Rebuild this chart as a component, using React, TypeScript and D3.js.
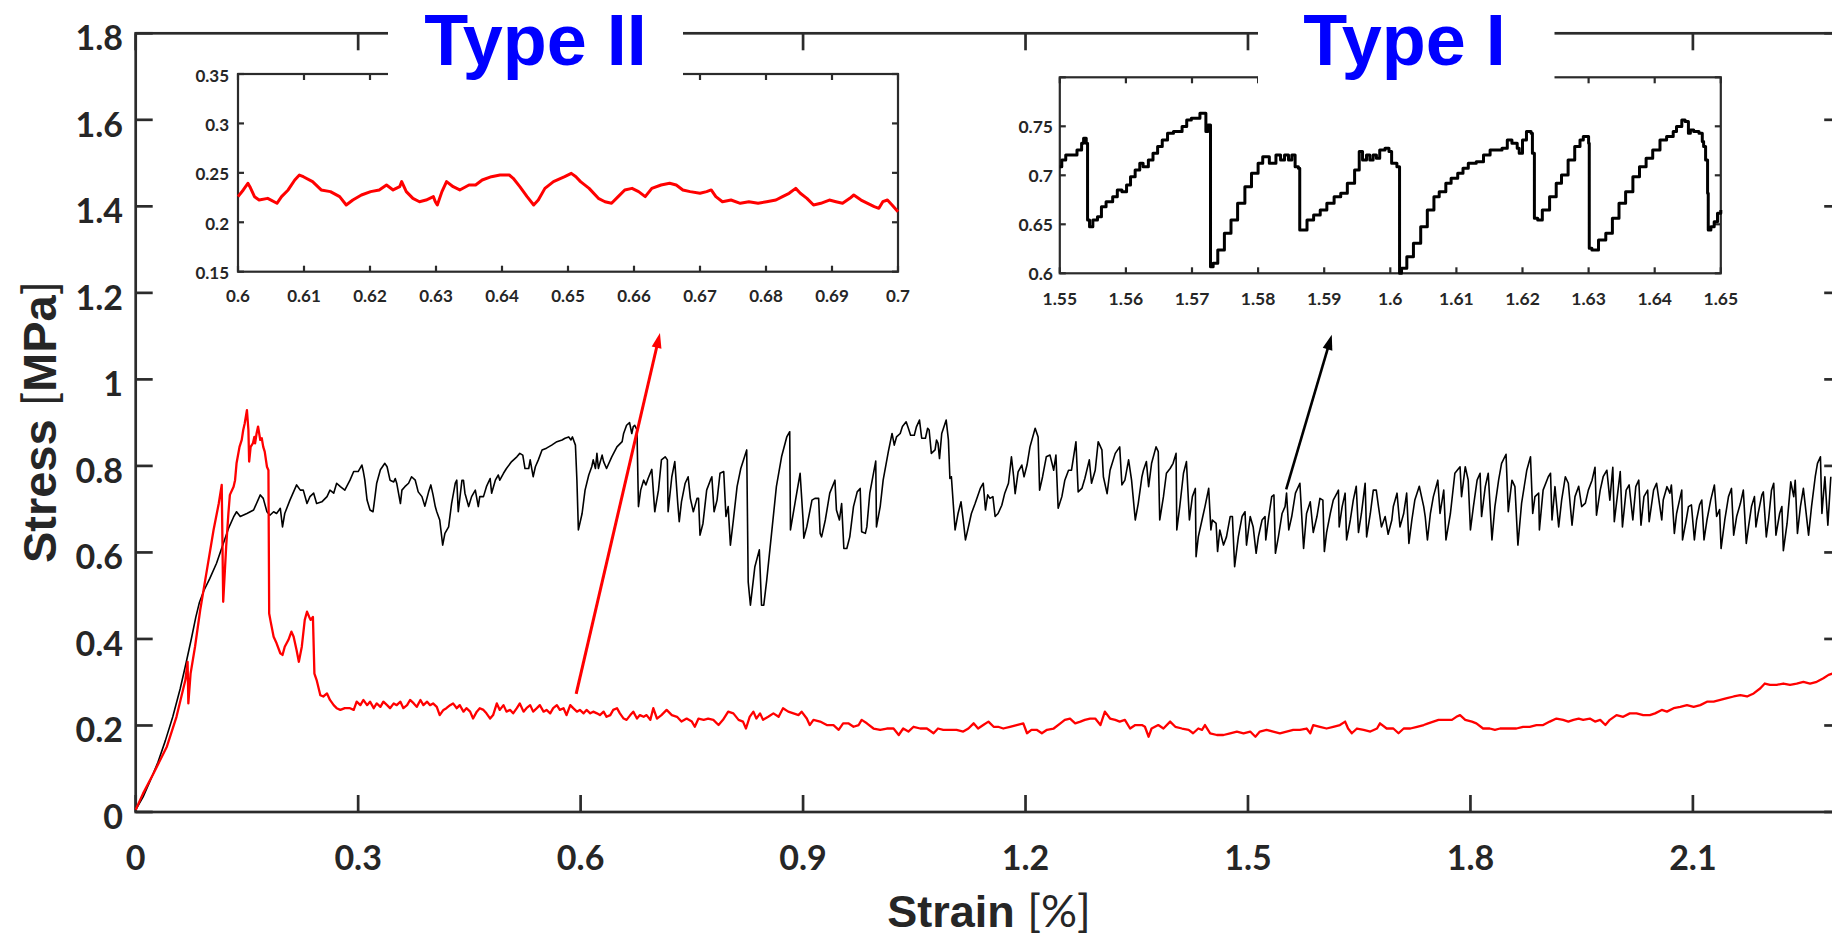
import React from 'react';
import * as d3 from 'd3';

type P = [number, number];

// ---------- main chart data (strain %, stress MPa) ----------
const blackMain: P[] = [
[0,0.005],[0.010,0.035],[0.019,0.070],[0.030,0.115],[0.040,0.165],[0.050,0.220],[0.060,0.285],[0.068,0.345],[0.075,0.400],[0.081,0.450],[0.086,0.485],[0.092,0.512],[0.100,0.540],[0.109,0.575],[0.117,0.615],[0.125,0.655],[0.132,0.682],[0.136,0.694],[0.141,0.683],[0.150,0.690],[0.159,0.698],[0.168,0.733],[0.172,0.725],[0.177,0.694],[0.181,0.686],[0.186,0.694],[0.190,0.690],[0.195,0.702],[0.198,0.659],[0.201,0.690],[0.208,0.721],[0.217,0.756],[0.222,0.744],[0.226,0.744],[0.231,0.713],[0.235,0.729],[0.240,0.737],[0.244,0.713],[0.251,0.717],[0.258,0.729],[0.262,0.744],[0.267,0.737],[0.271,0.760],[0.276,0.752],[0.282,0.744],[0.289,0.767],[0.294,0.787],[0.300,0.787],[0.305,0.802],[0.307,0.787],[0.309,0.767],[0.312,0.721],[0.316,0.698],[0.320,0.694],[0.321,0.706],[0.325,0.760],[0.330,0.791],[0.336,0.806],[0.339,0.798],[0.343,0.767],[0.348,0.763],[0.350,0.771],[0.352,0.760],[0.357,0.713],[0.359,0.744],[0.363,0.752],[0.368,0.760],[0.372,0.775],[0.377,0.767],[0.381,0.740],[0.386,0.729],[0.390,0.707],[0.395,0.740],[0.398,0.756],[0.401,0.733],[0.404,0.706],[0.406,0.694],[0.410,0.675],[0.414,0.617],[0.417,0.644],[0.422,0.659],[0.426,0.713],[0.431,0.760],[0.433,0.767],[0.435,0.694],[0.440,0.767],[0.442,0.767],[0.444,0.737],[0.449,0.706],[0.453,0.729],[0.458,0.744],[0.462,0.706],[0.464,0.729],[0.469,0.729],[0.473,0.752],[0.478,0.771],[0.480,0.737],[0.485,0.767],[0.489,0.779],[0.491,0.767],[0.496,0.783],[0.500,0.794],[0.507,0.810],[0.514,0.821],[0.518,0.829],[0.522,0.825],[0.525,0.794],[0.530,0.794],[0.532,0.814],[0.536,0.775],[0.539,0.798],[0.543,0.814],[0.548,0.837],[0.554,0.841],[0.561,0.848],[0.568,0.856],[0.575,0.860],[0.579,0.864],[0.584,0.867],[0.587,0.860],[0.589,0.867],[0.593,0.848],[0.595,0.767],[0.597,0.652],[0.602,0.690],[0.606,0.744],[0.611,0.779],[0.615,0.798],[0.617,0.814],[0.620,0.794],[0.622,0.829],[0.624,0.794],[0.629,0.825],[0.631,0.810],[0.635,0.794],[0.642,0.821],[0.649,0.844],[0.656,0.856],
[0.658,0.875],[0.662,0.894],[0.666,0.900],[0.669,0.875],[0.671,0.891],[0.673,0.894],[0.676,0.883],[0.678,0.706],[0.681,0.744],[0.685,0.767],[0.688,0.756],[0.691,0.771],[0.696,0.792],[0.700,0.694],[0.705,0.744],[0.709,0.814],[0.714,0.821],[0.717,0.814],[0.718,0.694],[0.723,0.775],[0.727,0.810],[0.731,0.713],[0.733,0.671],[0.736,0.717],[0.741,0.760],[0.745,0.775],[0.748,0.725],[0.752,0.694],[0.757,0.725],[0.759,0.725],[0.761,0.640],[0.765,0.667],[0.770,0.744],[0.775,0.767],[0.777,0.775],[0.780,0.694],[0.784,0.721],[0.788,0.783],[0.793,0.787],[0.796,0.683],[0.799,0.706],[0.802,0.617],[0.806,0.675],[0.811,0.752],[0.816,0.794],[0.824,0.837],[0.826,0.532],[0.829,0.478],[0.835,0.567],[0.841,0.606],[0.844,0.478],[0.847,0.478],[0.851,0.536],[0.858,0.652],[0.864,0.752],[0.871,0.821],[0.878,0.867],[0.882,0.879],[0.883,0.652],[0.889,0.713],[0.896,0.783],[0.900,0.675],[0.901,0.633],[0.905,0.659],[0.912,0.721],[0.916,0.725],[0.921,0.725],[0.923,0.644],[0.925,0.636],[0.930,0.675],[0.936,0.737],[0.943,0.767],[0.945,0.698],[0.949,0.675],[0.952,0.713],[0.955,0.609],[0.959,0.609],[0.963,0.636],[0.968,0.706],[0.973,0.740],[0.977,0.748],[0.979,0.648],[0.984,0.644],[0.986,0.659],[0.990,0.737],[0.998,0.811],[0.999,0.659],[1.004,0.706],[1.008,0.767],[1.015,0.833],[1.020,0.875],[1.023,0.848],[1.026,0.867],[1.031,0.875],[1.034,0.891],[1.039,0.902],[1.042,0.887],[1.045,0.871],[1.050,0.871],[1.053,0.891],[1.057,0.906],[1.060,0.864],[1.065,0.864],[1.068,0.887],[1.070,0.883],[1.073,0.829],[1.078,0.837],[1.080,0.860],[1.082,0.852],[1.084,0.817],[1.087,0.875],[1.093,0.906],[1.096,0.860],[1.098,0.771],[1.100,0.775],[1.105,0.652],[1.109,0.690],[1.113,0.717],[1.116,0.675],[1.119,0.629],[1.123,0.659],[1.127,0.690],[1.132,0.713],[1.139,0.748],[1.143,0.760],[1.146,0.698],[1.149,0.733],[1.152,0.725],[1.156,0.729],[1.159,0.683],[1.163,0.690],[1.168,0.709],[1.172,0.737],[1.177,0.760],[1.181,0.821],[1.184,0.775],[1.186,0.736],[1.190,0.786],[1.195,0.802],[1.198,0.775],[1.202,0.802],[1.206,0.844],[1.213,0.887],[1.217,0.867],[1.219,0.744],[1.223,0.775],[1.228,0.821],[1.233,0.825],[1.238,0.790],[1.241,0.825],[1.244,0.702],[1.249,0.729],[1.253,0.767],[1.258,0.790],[1.262,0.790],[1.268,0.856],[1.271,0.740],[1.276,0.748],[1.280,0.771],[1.286,0.814],[1.289,0.760],[1.294,0.790],[1.298,0.856],[1.303,0.837],[1.305,0.775],[1.310,0.736],[1.314,0.790],[1.321,0.829],[1.327,0.844],[1.330,0.756],[1.334,0.767],[1.339,0.814],[1.343,0.767],[1.348,0.675],[1.352,0.713],[1.357,0.775],
[1.359,0.790],[1.363,0.810],[1.366,0.752],[1.370,0.806],[1.376,0.844],[1.379,0.833],[1.381,0.675],[1.386,0.729],[1.390,0.783],[1.395,0.794],[1.399,0.806],[1.403,0.829],[1.404,0.652],[1.408,0.706],[1.413,0.783],[1.417,0.810],[1.421,0.675],[1.425,0.729],[1.429,0.748],[1.430,0.590],[1.433,0.636],[1.438,0.675],[1.442,0.706],[1.447,0.748],[1.450,0.652],[1.452,0.675],[1.457,0.667],[1.459,0.602],[1.462,0.652],[1.467,0.617],[1.471,0.636],[1.476,0.683],[1.479,0.683],[1.482,0.567],[1.487,0.636],[1.492,0.683],[1.496,0.694],[1.498,0.617],[1.503,0.683],[1.507,0.659],[1.511,0.598],[1.514,0.636],[1.519,0.675],[1.523,0.683],[1.524,0.629],[1.528,0.683],[1.532,0.729],[1.535,0.733],[1.537,0.598],[1.541,0.636],[1.546,0.690],[1.550,0.706],[1.552,0.737],[1.555,0.652],[1.559,0.683],[1.564,0.737],[1.570,0.760],[1.575,0.609],[1.579,0.690],[1.584,0.717],[1.588,0.646],[1.593,0.683],[1.597,0.725],[1.601,0.721],[1.603,0.602],[1.606,0.646],[1.611,0.690],[1.615,0.721],[1.620,0.737],[1.622,0.744],[1.623,0.659],[1.627,0.706],[1.631,0.737],[1.633,0.629],[1.638,0.675],[1.642,0.721],[1.646,0.753],[1.649,0.646],[1.653,0.690],[1.658,0.760],[1.660,0.636],[1.665,0.690],[1.669,0.744],[1.673,0.744],[1.676,0.706],[1.680,0.659],[1.685,0.683],[1.689,0.642],[1.694,0.675],[1.696,0.706],[1.701,0.737],[1.705,0.659],[1.710,0.690],[1.714,0.737],[1.717,0.621],[1.721,0.675],[1.725,0.721],[1.731,0.753],[1.737,0.706],[1.739,0.683],[1.742,0.629],[1.746,0.690],[1.750,0.729],[1.756,0.767],[1.759,0.690],[1.764,0.744],[1.767,0.629],[1.773,0.690],[1.779,0.783],[1.786,0.798],[1.788,0.729],[1.793,0.798],[1.797,0.767],[1.800,0.652],[1.804,0.706],[1.809,0.767],[1.813,0.783],[1.815,0.683],[1.820,0.752],[1.824,0.783],[1.829,0.629],[1.833,0.706],[1.838,0.767],[1.842,0.806],[1.848,0.827],[1.851,0.694],[1.856,0.767],[1.860,0.752],[1.864,0.617],[1.869,0.714],[1.876,0.790],[1.881,0.821],[1.884,0.690],[1.887,0.729],[1.892,0.737],[1.893,0.652],[1.898,0.744],[1.905,0.775],[1.908,0.783],[1.910,0.675],[1.914,0.752],[1.919,0.659],[1.923,0.721],[1.928,0.775],[1.932,0.760],[1.937,0.663],[1.941,0.729],[1.946,0.753],[1.950,0.706],[1.955,0.714],[1.959,0.744],[1.964,0.767],[1.968,0.797],[1.970,0.686],[1.975,0.744],[1.979,0.775],[1.984,0.790],[1.988,0.721],[1.992,0.797],[1.994,0.671],[1.998,0.729],[2.002,0.787],[2.005,0.659],[2.010,0.744],[2.014,0.756],[2.019,0.675],[2.023,0.752],[2.027,0.767],[2.030,0.663],[2.034,0.729],[2.039,0.744],[2.041,0.671],[2.047,0.744],[2.051,0.760],[2.058,0.675],
[2.060,0.721],[2.065,0.752],[2.069,0.737],[2.071,0.756],[2.075,0.644],[2.078,0.690],[2.083,0.729],[2.085,0.744],[2.086,0.629],[2.091,0.675],[2.094,0.706],[2.098,0.710],[2.102,0.629],[2.105,0.675],[2.109,0.710],[2.112,0.721],[2.115,0.629],[2.119,0.675],[2.124,0.721],[2.129,0.756],[2.132,0.683],[2.136,0.699],[2.138,0.609],[2.143,0.675],[2.148,0.729],[2.152,0.748],[2.155,0.640],[2.159,0.683],[2.164,0.713],[2.168,0.744],[2.172,0.621],[2.175,0.659],[2.179,0.706],[2.183,0.729],[2.185,0.659],[2.188,0.690],[2.193,0.733],[2.195,0.740],[2.199,0.636],[2.202,0.675],[2.206,0.744],[2.209,0.760],[2.212,0.640],[2.217,0.690],[2.220,0.706],[2.222,0.604],[2.227,0.667],[2.232,0.763],[2.236,0.729],[2.238,0.767],[2.241,0.644],[2.245,0.706],[2.249,0.748],[2.256,0.640],[2.260,0.706],[2.265,0.775],[2.268,0.806],[2.272,0.821],[2.274,0.690],[2.278,0.775],[2.282,0.663],[2.286,0.775]
];

const redMain: P[] = [
[0,0.005],[0.010,0.043],[0.024,0.089],[0.042,0.151],[0.055,0.220],[0.067,0.305],[0.070,0.347],[0.071,0.251],[0.074,0.320],[0.080,0.382],[0.087,0.467],[0.096,0.559],[0.105,0.652],[0.112,0.713],[0.116,0.756],[0.118,0.486],[0.122,0.613],[0.125,0.690],[0.127,0.733],[0.132,0.752],[0.134,0.767],[0.136,0.806],[0.140,0.844],[0.143,0.860],[0.145,0.883],[0.147,0.898],[0.150,0.929],[0.152,0.883],[0.153,0.810],[0.155,0.844],[0.158,0.852],[0.160,0.867],[0.161,0.852],[0.163,0.875],[0.165,0.891],[0.168,0.860],[0.170,0.864],[0.172,0.844],[0.174,0.833],[0.177,0.798],[0.179,0.790],[0.180,0.459],[0.182,0.440],[0.186,0.405],[0.190,0.390],[0.195,0.367],[0.198,0.363],[0.201,0.382],[0.206,0.398],[0.210,0.417],[0.213,0.405],[0.217,0.374],[0.220,0.347],[0.224,0.382],[0.228,0.444],[0.231,0.463],[0.234,0.451],[0.236,0.444],[0.239,0.451],[0.241,0.320],[0.244,0.305],[0.249,0.270],[0.253,0.267],[0.258,0.274],[0.262,0.259],[0.267,0.247],[0.271,0.240],[0.276,0.236],[0.282,0.240],[0.289,0.240],[0.294,0.236],[0.298,0.255],
[0.303,0.247],[0.307,0.259],[0.312,0.247],[0.316,0.255],[0.321,0.240],[0.325,0.251],[0.330,0.243],[0.334,0.255],[0.339,0.247],[0.343,0.240],[0.348,0.251],[0.352,0.247],[0.357,0.255],[0.361,0.240],[0.366,0.247],[0.370,0.259],[0.375,0.251],[0.379,0.243],[0.384,0.259],[0.388,0.247],[0.393,0.255],[0.397,0.247],[0.401,0.251],[0.406,0.243],[0.410,0.224],[0.415,0.236],[0.419,0.240],[0.424,0.247],[0.428,0.251],[0.433,0.240],[0.437,0.247],[0.442,0.232],[0.446,0.240],[0.451,0.232],[0.455,0.216],[0.460,0.232],[0.464,0.240],[0.469,0.236],[0.473,0.228],[0.478,0.216],[0.482,0.224],[0.487,0.251],[0.491,0.236],[0.496,0.247],[0.500,0.232],[0.505,0.236],[0.509,0.228],[0.514,0.240],[0.518,0.251],[0.523,0.232],[0.527,0.240],[0.532,0.247],[0.536,0.232],[0.541,0.240],[0.545,0.247],[0.550,0.232],[0.554,0.236],[0.559,0.228],[0.563,0.240],[0.568,0.247],[0.572,0.236],[0.577,0.240],[0.581,0.224],[0.586,0.247],[0.590,0.240],[0.595,0.232],[0.599,0.236],[0.604,0.228],[0.608,0.236],[0.613,0.228],[0.617,0.232],[0.622,0.228],[0.626,0.224],[0.631,0.232],[0.635,0.220],[0.640,0.224],[0.644,0.236],[0.649,0.240],[0.653,0.228],
[0.658,0.216],[0.662,0.213],[0.667,0.224],[0.671,0.232],[0.676,0.216],[0.680,0.224],[0.685,0.220],[0.689,0.224],[0.694,0.213],[0.698,0.240],[0.703,0.216],[0.709,0.224],[0.716,0.236],[0.723,0.224],[0.730,0.220],[0.736,0.209],[0.743,0.216],[0.750,0.209],[0.754,0.197],[0.759,0.216],[0.766,0.213],[0.772,0.216],[0.779,0.213],[0.786,0.201],[0.792,0.213],[0.799,0.232],[0.806,0.228],[0.813,0.213],[0.819,0.209],[0.823,0.193],[0.828,0.220],[0.833,0.232],[0.837,0.216],[0.842,0.228],[0.846,0.213],[0.853,0.220],[0.860,0.228],[0.867,0.220],[0.873,0.240],[0.880,0.232],[0.887,0.228],[0.894,0.224],[0.898,0.232],[0.905,0.216],[0.909,0.201],[0.914,0.213],[0.923,0.209],[0.932,0.201],[0.941,0.201],[0.948,0.190],[0.954,0.205],[0.961,0.205],[0.968,0.197],[0.975,0.201],[0.979,0.213],[0.986,0.205],[0.995,0.193],[1.004,0.190],[1.013,0.193],[1.022,0.193],[1.029,0.178],[1.035,0.193],[1.042,0.186],[1.049,0.197],[1.058,0.193],[1.067,0.193],[1.076,0.182],[1.082,0.193],[1.089,0.190],[1.098,0.190],[1.107,0.190],[1.116,0.186],[1.123,0.193],[1.130,0.205],[1.136,0.193],[1.143,0.201],[1.150,0.209],[1.157,0.197],[1.163,0.197],[1.170,0.193],[1.179,0.197],[1.188,0.201],[1.197,0.205],[1.202,0.182],[1.208,0.190],[1.215,0.190],[1.222,0.182],[1.229,0.190],[1.238,0.193],[1.247,0.205],[1.253,0.213],[1.260,0.216],[1.267,0.205],[1.274,0.209],[1.280,0.213],[1.287,0.216],[1.294,0.216],[1.301,0.201],[1.307,0.232],[1.314,0.216],[1.321,0.213],[1.327,0.209],[1.334,0.213],[1.341,0.193],[1.348,0.201],[1.357,0.201],
[1.361,0.197],[1.366,0.174],[1.370,0.193],[1.379,0.201],[1.386,0.193],[1.395,0.209],[1.402,0.197],[1.411,0.193],[1.420,0.190],[1.426,0.182],[1.433,0.193],[1.438,0.190],[1.442,0.201],[1.449,0.182],[1.458,0.178],[1.467,0.178],[1.476,0.182],[1.485,0.186],[1.494,0.182],[1.503,0.186],[1.510,0.174],[1.516,0.186],[1.525,0.190],[1.534,0.186],[1.543,0.182],[1.552,0.186],[1.561,0.190],[1.570,0.190],[1.579,0.193],[1.584,0.182],[1.588,0.201],[1.597,0.197],[1.606,0.193],[1.615,0.197],[1.624,0.201],[1.631,0.209],[1.635,0.193],[1.640,0.182],[1.647,0.193],[1.656,0.190],[1.665,0.186],[1.674,0.193],[1.678,0.205],[1.687,0.193],[1.696,0.193],[1.703,0.182],[1.710,0.193],[1.719,0.193],[1.728,0.197],[1.737,0.201],[1.743,0.205],[1.750,0.209],[1.757,0.213],[1.766,0.213],[1.775,0.213],[1.781,0.220],[1.786,0.224],[1.793,0.213],[1.802,0.209],[1.808,0.205],[1.817,0.193],[1.826,0.193],[1.833,0.190],[1.840,0.193],[1.847,0.193],[1.853,0.193],[1.862,0.193],[1.871,0.197],[1.880,0.197],[1.889,0.201],[1.898,0.201],[1.907,0.209],[1.916,0.216],[1.925,0.213],[1.932,0.209],[1.939,0.213],[1.946,0.216],[1.952,0.213],[1.961,0.216],[1.968,0.209],[1.975,0.213],[1.982,0.201],[1.988,0.213],[1.997,0.224],[2.006,0.220],[2.015,0.228],[2.024,0.228],[2.033,0.224],[2.042,0.224],[2.049,0.228],[2.058,0.236],
[2.065,0.232],[2.074,0.240],[2.083,0.243],[2.092,0.247],[2.101,0.243],[2.110,0.247],[2.119,0.255],[2.128,0.255],[2.137,0.259],[2.146,0.263],[2.155,0.267],[2.164,0.270],[2.173,0.267],[2.182,0.274],[2.191,0.286],[2.197,0.297],[2.204,0.294],[2.213,0.294],[2.222,0.297],[2.231,0.294],[2.240,0.297],[2.249,0.301],[2.258,0.297],[2.267,0.301],[2.276,0.309],[2.283,0.317],[2.288,0.320]
];

// ---------- inset data ----------
const redInset: P[] = [
[0.6,0.2259],[0.6008,0.2327],[0.6015,0.2394],[0.6018,0.2360],[0.6025,0.2259],[0.6032,0.2225],[0.6045,0.2242],[0.6059,0.2192],[0.6066,0.2259],[0.6076,0.2327],[0.6086,0.2428],[0.6093,0.2478],[0.6099,0.2461],[0.6113,0.2411],[0.6126,0.2327],[0.6140,0.2310],[0.6154,0.2259],[0.6164,0.2175],[0.6174,0.2225],[0.6187,0.2276],[0.6201,0.2310],[0.6214,0.2327],[0.6225,0.2377],[0.6235,0.2327],[0.6245,0.2360],[0.6248,0.2411],[0.6255,0.2310],[0.6265,0.2242],[0.6275,0.2208],[0.6285,0.2225],[0.6296,0.2259],[0.6299,0.2208],[0.6302,0.2175],[0.6309,0.2310],[0.6316,0.2411],[0.6326,0.2360],[0.6336,0.2327],[0.6350,0.2377],[0.6360,0.2377],[0.6370,0.2428],[0.6384,0.2461],[0.6397,0.2478],[0.6411,0.2478],[0.6417,0.2445],[0.6427,0.2360],[0.6438,0.2259],[0.6448,0.2175],[0.6455,0.2225],[0.6465,0.2343],[0.6478,0.2411],[0.6495,0.2461],[0.6505,0.2495],[0.6512,0.2461],[0.6519,0.2411],[0.6532,0.2343],[0.6546,0.2242],[0.6556,0.2208],[0.6566,0.2192],[0.6576,0.2259],[0.6586,0.2327],[0.6597,0.2343],[0.6607,0.2310],[0.6617,0.2259],[0.6627,0.2343],[0.6641,0.2377],[0.6654,0.2394],[0.6664,0.2377],[0.6674,0.2327],[0.6685,0.2310],[0.6700,0.2293],[0.6710,0.2310],[0.6717,0.2327],[0.6724,0.2259],[0.6734,0.2208],[0.6747,0.2225],[0.6761,0.2192],[0.6774,0.2208],[0.6788,0.2192],[0.6801,0.2208],[0.6815,0.2225],[0.6825,0.2259],[0.6835,0.2293],[0.6845,0.2343],[0.6852,0.2293],[0.6862,0.2242],[0.6872,0.2175],[0.6883,0.2192],[0.6896,0.2225],[0.6906,0.2208],[0.6916,0.2192],[0.6927,0.2242],[0.6933,0.2276],[0.6944,0.2225],[0.6954,0.2192],[0.6964,0.2158],[0.6971,0.2141],[0.6977,0.2208],[0.6984,0.2225],[0.6991,0.2175],[0.7000,0.2107]
];

const blackInset: P[] = [
[1.5500,0.7088],[1.5503,0.7156],[1.5509,0.7208],[1.5523,0.7208],[1.5526,0.7259],[1.5533,0.7327],[1.5536,0.7378],[1.5540,0.7327],[1.5542,0.6544],[1.5545,0.6476],[1.5550,0.6544],[1.5557,0.6578],[1.5563,0.6680],[1.5570,0.6731],[1.5580,0.6782],[1.5587,0.6850],[1.5594,0.6833],[1.5601,0.6901],[1.5607,0.6986],[1.5614,0.7054],[1.5621,0.7122],[1.5626,0.7088],[1.5634,0.7156],[1.5641,0.7224],[1.5648,0.7293],[1.5655,0.7361],[1.5663,0.7429],[1.5672,0.7446],[1.5678,0.7446],[1.5685,0.7497],[1.5692,0.7565],[1.5699,0.7582],[1.5705,0.7582],[1.5712,0.7633],[1.5719,0.7633],[1.5721,0.7446],[1.5724,0.7514],[1.5728,0.6068],[1.5732,0.6102],[1.5739,0.6238],[1.5749,0.6408],[1.5759,0.6544],[1.5769,0.6714],[1.5780,0.6884],[1.5790,0.7020],[1.5800,0.7122],[1.5807,0.7190],[1.5817,0.7122],[1.5827,0.7208],[1.5834,0.7156],[1.5840,0.7208],[1.5846,0.7156],[1.5851,0.7208],[1.5856,0.7088],[1.5861,0.7071],[1.5863,0.6442],
[1.5874,0.6544],[1.5884,0.6595],[1.5894,0.6646],[1.5904,0.6714],[1.5915,0.6782],[1.5925,0.6816],[1.5935,0.6918],[1.5946,0.7054],[1.5953,0.7242],[1.5958,0.7156],[1.5964,0.7208],[1.5969,0.7156],[1.5974,0.7208],[1.5979,0.7173],[1.5984,0.7259],[1.5992,0.7276],[1.5998,0.7242],[1.6002,0.7122],[1.6010,0.7088],[1.6012,0.7088],[1.6014,0.6000],[1.6017,0.6051],[1.6025,0.6170],[1.6035,0.6306],[1.6046,0.6476],[1.6056,0.6646],[1.6066,0.6782],[1.6074,0.6833],[1.6084,0.6918],[1.6092,0.6969],[1.6102,0.7020],[1.6110,0.7071],[1.6118,0.7122],[1.6130,0.7139],[1.6141,0.7208],[1.6151,0.7259],[1.6169,0.7276],[1.6177,0.7361],[1.6184,0.7327],[1.6192,0.7276],[1.6195,0.7224],[1.6200,0.7361],[1.6206,0.7446],[1.6213,0.7429],[1.6215,0.7224],[1.6218,0.6561],[1.6223,0.6544],[1.6230,0.6646],[1.6241,0.6782],[1.6251,0.6918],[1.6259,0.7003],[1.6269,0.7156],[1.6279,0.7293],[1.6287,0.7361],[1.6292,0.7395],[1.6300,0.7327],[1.6301,0.6255],[1.6305,0.6238],[1.6315,0.6340],[1.6326,0.6408],[1.6336,0.6561],[1.6346,0.6714],[1.6356,0.6833],[1.6367,0.6986],[1.6377,0.7088],[1.6387,0.7173],[1.6397,0.7259],[1.6408,0.7361],[1.6418,0.7395],[1.6428,0.7446],[1.6433,0.7497],[1.6441,0.7565],[1.6446,0.7548],[1.6451,0.7429],[1.6454,0.7463],[1.6459,0.7446],[1.6467,0.7429],[1.6472,0.7344],[1.6474,0.7293],[1.6477,0.7156],[1.6480,0.6816],[1.6481,0.6442],[1.6485,0.6476],[1.6490,0.6527],[1.6495,0.6612],[1.6500,0.6646]
];

// ---------- ticks ----------
const mainXTicks = [0, 0.3, 0.6, 0.9, 1.2, 1.5, 1.8, 2.1];
const mainXLabels = ['0', '0.3', '0.6', '0.9', '1.2', '1.5', '1.8', '2.1'];
const mainYTicks = [0, 0.2, 0.4, 0.6, 0.8, 1, 1.2, 1.4, 1.6, 1.8];
const mainYLabels = ['0', '0.2', '0.4', '0.6', '0.8', '1', '1.2', '1.4', '1.6', '1.8'];

const in1XTicks = [0.6, 0.61, 0.62, 0.63, 0.64, 0.65, 0.66, 0.67, 0.68, 0.69, 0.7];
const in1XLabels = ['0.6', '0.61', '0.62', '0.63', '0.64', '0.65', '0.66', '0.67', '0.68', '0.69', '0.7'];
const in1YTicks = [0.15, 0.2, 0.25, 0.3, 0.35];
const in1YLabels = ['0.15', '0.2', '0.25', '0.3', '0.35'];

const in2XTicks = [1.55, 1.56, 1.57, 1.58, 1.59, 1.6, 1.61, 1.62, 1.63, 1.64, 1.65];
const in2XLabels = ['1.55', '1.56', '1.57', '1.58', '1.59', '1.6', '1.61', '1.62', '1.63', '1.64', '1.65'];
const in2YTicks = [0.6, 0.65, 0.7, 0.75, 0.8];
const in2YLabels = ['0.6', '0.65', '0.7', '0.75', ''];

// arrows: [from, to] in main data coords
const redArrow: [P, P] = [[0.594, 0.273], [0.707, 1.107]];
const blackArrow: [P, P] = [[1.5515, 0.746], [1.613, 1.103]];

const AX = '#2b2b2b';
const TICK_FONT = "Lato, 'Open Sans', 'DejaVu Sans', sans-serif";
const TITLE_FONT = "'Liberation Sans', Arial, Helvetica, sans-serif";

type Scale = d3.ScaleLinear<number, number>;

function Frame({ x, y, xt, yt, tl, sw, labelXs, labelYs, fs, xBase, yOff, yLabelX }: {
  x: Scale; y: Scale; xt: number[]; yt: number[]; tl: number; sw: number;
  labelXs: string[]; labelYs: string[]; fs: number; xBase: number; yOff: number; yLabelX: number;
}) {
  const [x0, x1] = x.range();
  const [y0, y1] = y.range(); // y0 bottom, y1 top
  return (
    <g>
      {xt.map((t, i) => (
        <g key={'xt' + i}>
          <line x1={x(t)} x2={x(t)} y1={y0} y2={y0 - tl} stroke={AX} strokeWidth={sw} />
          <line x1={x(t)} x2={x(t)} y1={y1} y2={y1 + tl} stroke={AX} strokeWidth={sw} />
          <text x={x(t)} y={xBase} textAnchor="middle" fontFamily={TICK_FONT} fontWeight={700} fontSize={fs} fill="#262626">{labelXs[i]}</text>
        </g>
      ))}
      {yt.map((t, i) => (
        <g key={'yt' + i}>
          <line x1={x0} x2={x0 + tl} y1={y(t)} y2={y(t)} stroke={AX} strokeWidth={sw} />
          <line x1={x1} x2={x1 - tl} y1={y(t)} y2={y(t)} stroke={AX} strokeWidth={sw} />
          <text x={yLabelX} y={y(t) + yOff} textAnchor="end" fontFamily={TICK_FONT} fontWeight={700} fontSize={fs} fill="#262626">{labelYs[i]}</text>
        </g>
      ))}
      <rect x={x0} y={y1} width={x1 - x0} height={y0 - y1} fill="none" stroke={AX} strokeWidth={sw} />
    </g>
  );
}

function Arrow({ a, x, y, color, w }: { a: [P, P]; x: Scale; y: Scale; color: string; w: number }) {
  const x1 = x(a[0][0]), y1 = y(a[0][1]);
  const x2 = x(a[1][0]), y2 = y(a[1][1]);
  const dx = x2 - x1, dy = y2 - y1;
  const len = Math.hypot(dx, dy);
  const ux = dx / len, uy = dy / len;
  const L = 15, hw = 5;
  const bx = x2 - ux * L, by = y2 - uy * L;
  const pts = [[x2, y2], [bx - uy * hw, by + ux * hw], [bx + uy * hw, by - ux * hw]];
  return (
    <g>
      <line x1={x1} y1={y1} x2={bx + ux * 2} y2={by + uy * 2} stroke={color} strokeWidth={w} />
      <polygon points={pts.map(p => p.join(',')).join(' ')} fill={color} />
    </g>
  );
}

export default function App() {
  const x = d3.scaleLinear().domain([0, 2.3]).range([135.7, 1841.2]);
  const y = d3.scaleLinear().domain([0, 1.8]).range([812, 33.3]);
  const line = d3.line<P>().x(d => x(d[0])).y(d => y(d[1]));

  const x1 = d3.scaleLinear().domain([0.6, 0.7]).range([238, 898]);
  const y1 = d3.scaleLinear().domain([0.15, 0.35]).range([271.7, 74]);
  const l1 = d3.line<P>().x(d => x1(d[0])).y(d => y1(d[1]));

  const x2 = d3.scaleLinear().domain([1.55, 1.65]).range([1059.8, 1720.8]);
  const y2 = d3.scaleLinear().domain([0.6, 0.8]).range([273.3, 77.3]);
  const l2 = d3.line<P>().x(d => x2(d[0])).y(d => y2(d[1])).curve(d3.curveStepAfter);

  return (
    <svg width={1832} height={939} style={{ position: 'absolute', left: 0, top: 0, background: '#fff' }}>
      <rect x={0} y={0} width={1832} height={939} fill="#fff" />
      {/* main axes */}
      <Frame x={x} y={y} xt={mainXTicks} yt={mainYTicks} tl={17} sw={2.7}
        labelXs={mainXLabels} labelYs={mainYLabels} fs={34} xBase={870} yOff={17} yLabelX={123} />
      {/* curves */}
      <path d={line(blackMain) || ''} fill="none" stroke="#000" strokeWidth={1.6} strokeLinejoin="round" />
      <path d={line(redMain) || ''} fill="none" stroke="#ff0000" strokeWidth={2.3} strokeLinejoin="round" />
      {/* arrows */}
      <Arrow a={redArrow} x={x} y={y} color="#ff0000" w={3} />
      <Arrow a={blackArrow} x={x} y={y} color="#000" w={2.6} />

      {/* inset 1 : Type II */}
      <Frame x={x1} y={y1} xt={in1XTicks} yt={in1YTicks} tl={6} sw={2.2}
        labelXs={in1XLabels} labelYs={in1YLabels} fs={17} xBase={302} yOff={7.5} yLabelX={229} />
      <path d={l1(redInset) || ''} fill="none" stroke="#ff0000" strokeWidth={3} strokeLinejoin="round" />

      {/* inset 2 : Type I */}
      <Frame x={x2} y={y2} xt={in2XTicks} yt={in2YTicks} tl={6} sw={2.2}
        labelXs={in2XLabels} labelYs={in2YLabels} fs={17.5} xBase={304.5} yOff={7} yLabelX={1053} />
      <path d={l2(blackInset) || ''} fill="none" stroke="#000" strokeWidth={3} strokeLinejoin="round" />

      {/* title boxes */}
      <rect x={388} y={0} width={295} height={86} fill="#fff" />
      <rect x={1258} y={0} width={296.5} height={86} fill="#fff" />
      <text x={535.5} y={65} textAnchor="middle" fontFamily={TITLE_FONT} fontWeight={700} fontSize={72} fill="#0000ff">Type II</text>
      <text x={1404.5} y={65} textAnchor="middle" fontFamily={TITLE_FONT} fontWeight={700} fontSize={72} fill="#0000ff">Type I</text>

      {/* axis labels */}
      <text x={989} y={927} textAnchor="middle" fontFamily={TITLE_FONT} fontWeight={700} fontSize={45} fill="#262626">
        Strain <tspan fontWeight={400} fontFamily={TICK_FONT}>[%]</tspan>
      </text>
      <text transform="translate(56,422) rotate(-90)" textAnchor="middle" fontFamily={TITLE_FONT} fontWeight={700} fontSize={47} fill="#262626">
        Stress <tspan fontWeight={400} fontFamily={TICK_FONT}>[</tspan>MPa<tspan fontWeight={400} fontFamily={TICK_FONT}>]</tspan>
      </text>
    </svg>
  );
}
